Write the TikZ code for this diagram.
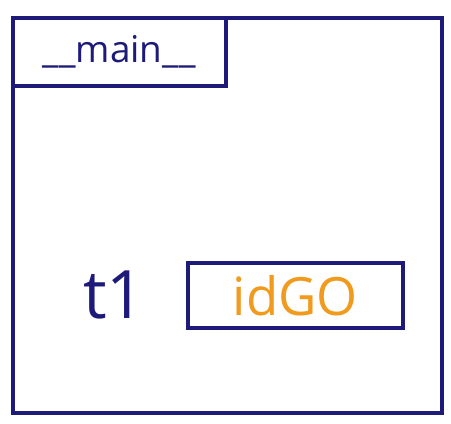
\documentclass[tikz,border=0pt]{standalone}
\usepackage{fontspec}
\setsansfont{Open Sans}
\usepackage{tikz}
\usetikzlibrary{
  positioning,
  calc
}
\definecolor{fmInk}{HTML}{1E1A7A}
\definecolor{fmVal}{HTML}{F09A1E}
\tikzset{
  fmnode/.style={
    draw=fmInk, line width=2pt, inner sep=0pt, font=\sffamily
  },
  frame/.style={fmnode, minimum width=8.58cm, minimum height=7.9cm},
  scopebox/.style={fmnode, minimum width=4.26cm, minimum height=1.36cm,
    text=fmInk, font=\sffamily\fontsize{21}{24}\selectfont},
  valbox/.style={fmnode, minimum width=4.3cm, minimum height=1.3cm,
    text=fmVal, font=\sffamily\fontsize{30}{34}\selectfont},
  varname/.style={text=fmInk, font=\sffamily\fontsize{38}{42}\selectfont}
}
\begin{document}
\begin{tikzpicture}
  \useasboundingbox (0,0) rectangle (9.02,-8.48);
  \node[frame, anchor=north west] (mainframe) at (0.22,-0.32) {};
  \node[scopebox, anchor=north west] (mainlbl) at (mainframe.north west) {\_\_main\_\_};
  \node[valbox, anchor=north west] (val) at (3.72,-5.22) {idGO};
  \node[varname, left=0.7cm of val] (t1) {t1};
\end{tikzpicture}
\end{document}
